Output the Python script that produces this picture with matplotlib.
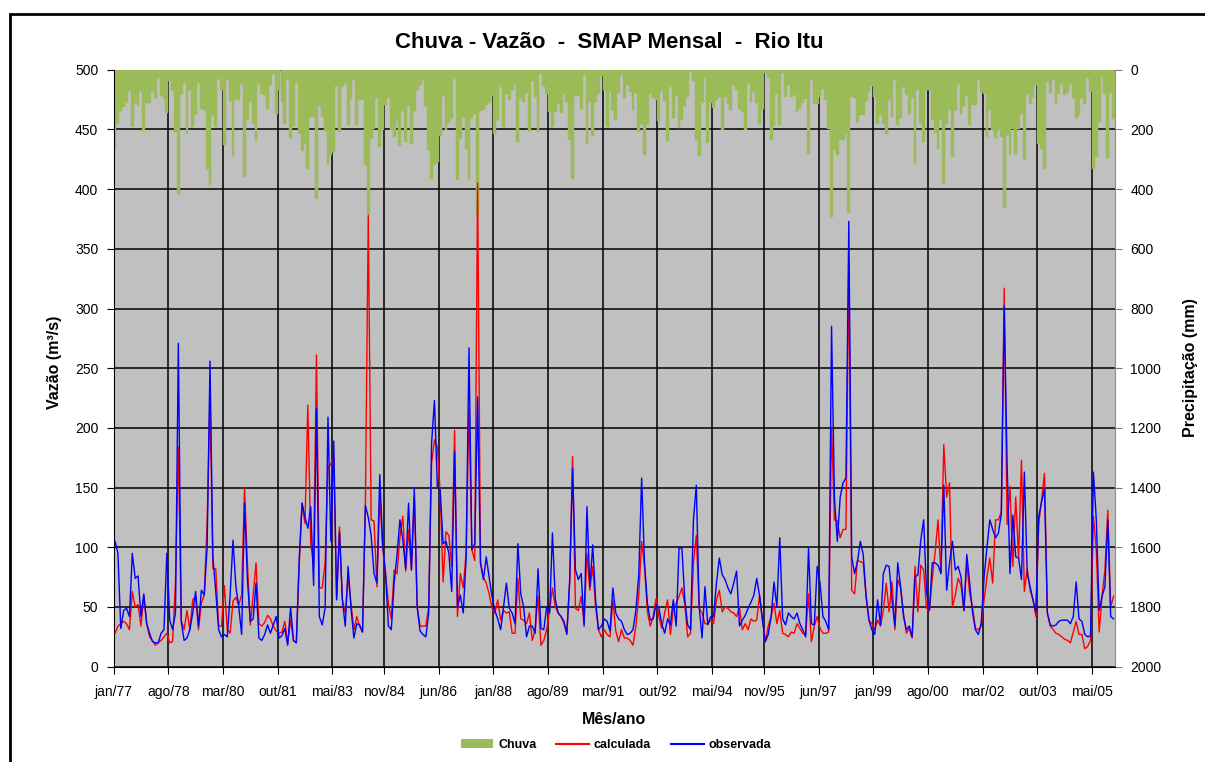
import numpy as np
import matplotlib
matplotlib.use("Agg")
import matplotlib.pyplot as plt
from matplotlib.lines import Line2D
from matplotlib.patches import Patch, Rectangle

plt.rcParams["font.family"] = ["Liberation Sans", "DejaVu Sans"]

# monthly series, jan/77 .. dez/05
TICK_LABELS = ["jan/77", "ago/78", "mar/80", "out/81", "mai/83", "nov/84", "jun/86",
               "jan/88", "ago/89", "mar/91", "out/92", "mai/94", "nov/95", "jun/97",
               "jan/99", "ago/00", "mar/02", "out/03", "mai/05"]
MESES = ["jan", "fev", "mar", "abr", "mai", "jun", "jul", "ago", "set", "out", "nov", "dez"]

# Chuva (mm)
chuva = [
    261, 183, 140, 125, 110, 71, 192, 110, 122, 71,
    205, 110, 110, 76, 94, 27, 89, 98, 145, 39,
    71, 209, 415, 83, 44, 217, 67, 192, 153, 44,
    131, 134, 331, 387, 155, 192, 30, 69, 253, 36,
    105, 289, 103, 100, 49, 359, 170, 108, 181, 240,
    47, 80, 86, 133, 52, 13, 147, 67, 108, 183,
    33, 228, 189, 44, 214, 273, 246, 331, 158, 158,
    434, 122, 158, 205, 315, 285, 276, 55, 209, 58,
    47, 186, 99, 33, 186, 103, 103, 320, 487, 233,
    200, 94, 259, 203, 117, 94, 203, 225, 173, 257,
    138, 242, 123, 248, 138, 69, 52, 33, 123, 268,
    365, 320, 309, 222, 89, 201, 177, 164, 30, 368,
    231, 158, 264, 365, 166, 147, 490, 138, 134, 119,
    112, 89, 214, 170, 58, 192, 83, 100, 67, 47,
    242, 94, 108, 77, 206, 38, 92, 209, 13, 56,
    83, 142, 192, 142, 114, 145, 80, 108, 237, 365,
    89, 89, 131, 19, 248, 108, 223, 108, 80, 22,
    69, 192, 71, 136, 167, 77, 19, 94, 50, 75,
    136, 78, 209, 181, 285, 184, 83, 94, 103, 173,
    71, 106, 240, 58, 161, 89, 195, 167, 123, 92,
    8, 38, 237, 289, 110, 27, 244, 110, 127, 103,
    92, 203, 92, 114, 134, 52, 69, 131, 142, 203,
    49, 108, 75, 112, 181, 131, 11, 27, 237, 186,
    80, 186, 11, 92, 52, 92, 86, 142, 131, 112,
    99, 281, 36, 116, 116, 92, 64, 100, 198, 493,
    270, 287, 237, 237, 214, 480, 92, 94, 175, 153,
    153, 105, 75, 56, 92, 183, 153, 183, 217, 100,
    158, 36, 186, 161, 58, 86, 147, 94, 311, 69,
    181, 242, 67, 69, 170, 212, 264, 170, 384, 181,
    134, 292, 134, 47, 150, 125, 89, 186, 119, 119,
    36, 75, 83, 225, 136, 203, 228, 203, 225, 462,
    220, 287, 198, 281, 198, 147, 304, 83, 114, 92,
    52, 248, 264, 331, 41, 77, 36, 112, 80, 49,
    84, 78, 49, 94, 161, 153, 94, 116, 27, 75,
    331, 292, 175, 25, 80, 295, 78, 164,
]

# Vazao calculada (m3/s)
calculada = [
    28, 34, 36, 38, 36, 31, 63, 50, 52, 34,
    59, 36, 25, 22, 18, 20, 22, 25, 28, 20,
    21, 70, 184, 39, 31, 47, 31, 56, 59, 31,
    53, 60, 120, 226, 82, 82, 34, 34, 68, 31,
    28, 55, 58, 52, 60, 150, 87, 35, 60, 87,
    36, 34, 37, 43, 40, 34, 30, 28, 29, 38,
    20, 39, 22, 20, 85, 137, 120, 219, 103, 87,
    261, 66, 66, 87, 166, 170, 175, 57, 117, 56,
    45, 75, 53, 31, 42, 34, 29, 135, 378, 123,
    122, 67, 142, 100, 78, 53, 40, 81, 78, 109,
    126, 80, 115, 81, 142, 50, 34, 34, 34, 50,
    170, 190, 184, 145, 71, 113, 110, 84, 198, 42,
    78, 66, 95, 216, 98, 89, 405, 87, 75, 70,
    61, 49, 45, 56, 39, 47, 45, 46, 28, 28,
    74, 40, 39, 36, 45, 22, 31, 59, 18, 22,
    31, 47, 66, 50, 45, 42, 36, 28, 70, 176,
    49, 47, 59, 36, 95, 64, 84, 50, 31, 25,
    31, 27, 25, 56, 30, 21, 31, 24, 24, 22,
    18, 34, 60, 105, 84, 46, 34, 42, 57, 42,
    32, 45, 56, 27, 48, 53, 59, 66, 52, 25,
    28, 87, 110, 49, 45, 36, 36, 39, 36, 56,
    64, 46, 50, 49, 46, 45, 42, 50, 31, 36,
    31, 40, 38, 39, 60, 39, 21, 34, 42, 53,
    36, 47, 28, 27, 25, 29, 28, 36, 32, 28,
    27, 61, 21, 34, 42, 32, 28, 28, 29, 201,
    123, 122, 108, 115, 115, 340, 64, 61, 89, 88,
    87, 59, 39, 36, 31, 39, 34, 47, 70, 46,
    71, 31, 73, 66, 45, 28, 32, 24, 84, 46,
    85, 81, 49, 47, 74, 96, 123, 78, 186, 142,
    154, 50, 60, 74, 68, 47, 87, 61, 50, 32,
    31, 34, 56, 75, 91, 70, 123, 123, 130, 317,
    119, 151, 84, 142, 91, 173, 63, 82, 64, 56,
    42, 120, 140, 162, 45, 34, 31, 28, 27, 25,
    23, 22, 20, 29, 38, 27, 27, 15, 17, 22,
    126, 98, 29, 59, 81, 131, 50, 59,
]

# Vazao observada (m3/s)
observada = [
    105, 95, 32, 47, 49, 42, 95, 74, 76, 42,
    61, 36, 28, 21, 20, 20, 28, 31, 95, 39,
    31, 45, 271, 38, 22, 24, 31, 45, 63, 34,
    64, 60, 100, 256, 92, 63, 31, 25, 27, 25,
    60, 106, 67, 50, 27, 137, 73, 38, 40, 70,
    24, 22, 27, 35, 28, 35, 42, 24, 26, 32,
    18, 50, 22, 20, 90, 137, 125, 116, 134, 68,
    216, 42, 35, 49, 209, 105, 189, 56, 113, 56,
    34, 84, 49, 24, 36, 35, 29, 135, 125, 110,
    78, 70, 161, 103, 78, 34, 31, 70, 94, 123,
    106, 82, 137, 81, 149, 50, 30, 27, 25, 45,
    187, 223, 151, 148, 103, 105, 95, 63, 180, 50,
    60, 45, 90, 267, 98, 103, 226, 87, 73, 92,
    75, 59, 47, 40, 31, 50, 70, 49, 45, 36,
    103, 61, 50, 25, 34, 34, 28, 82, 32, 31,
    50, 45, 112, 56, 45, 42, 38, 27, 73, 166,
    81, 73, 78, 34, 134, 67, 102, 56, 31, 34,
    40, 38, 30, 66, 45, 40, 38, 31, 27, 28,
    31, 47, 77, 158, 87, 53, 39, 40, 52, 49,
    36, 28, 40, 35, 56, 34, 100, 99, 56, 35,
    31, 123, 152, 50, 24, 67, 35, 42, 42, 70,
    91, 77, 73, 66, 61, 70, 80, 34, 39, 43,
    49, 54, 60, 74, 59, 39, 21, 27, 42, 71,
    50, 108, 40, 35, 45, 42, 40, 45, 36, 31,
    25, 99, 36, 35, 84, 70, 42, 38, 31, 285,
    142, 105, 142, 154, 158, 373, 92, 78, 88, 105,
    94, 59, 39, 31, 27, 56, 35, 78, 85, 84,
    56, 34, 87, 67, 42, 31, 34, 25, 75, 77,
    106, 123, 63, 47, 87, 87, 85, 78, 152, 64,
    87, 105, 81, 84, 75, 47, 94, 70, 45, 31,
    27, 36, 75, 100, 123, 115, 108, 112, 128, 302,
    170, 78, 127, 92, 91, 73, 163, 78, 67, 56,
    46, 126, 138, 149, 45, 35, 34, 35, 38, 39,
    39, 39, 36, 42, 71, 40, 38, 27, 25, 26,
    163, 123, 47, 59, 67, 123, 42, 40,
]


def month_index(label):
    """'ago/78' -> months since jan/77 (two-digit years, 77..99 then 00..)."""
    mes, ano = label.split("/")
    ano = int(ano)
    ano += 1900 if ano >= 50 else 2000
    return (ano - 1977) * 12 + MESES.index(mes)


n = len(chuva)
x = np.arange(n) + 0.5
tick_pos = [month_index(t) for t in TICK_LABELS]

fig = plt.figure(figsize=(12.05, 7.62), dpi=100)
ax = fig.add_axes([113.6 / 1205, 1 - 666.7 / 762, (1115 - 113.6) / 1205, (666.7 - 69.7) / 762])
ax.set_facecolor("#C0C0C0")
# thin same-colour edge closes the hairline seams between adjacent bars
ax.bar(x, chuva, width=1.0, color="#9BBB59", edgecolor="#9BBB59", linewidth=0.3)
ax.set_xlim(0, n)
ax.set_ylim(2000, 0)
ax.set_yticks(np.arange(0, 2001, 200))
ax.set_xticks(tick_pos)
ax.set_xticklabels(TICK_LABELS, fontsize=10)
ax.set_axisbelow(True)
ax.grid(True, color="black", lw=1.1)

ax2 = ax.twinx()
ax2.plot(x, calculada, color="#FF0000", lw=1.0)
ax2.plot(x, observada, color="#0000FF", lw=1.0)
ax2.set_ylim(0, 500)
ax2.set_yticks(np.arange(0, 501, 50))

ax.yaxis.tick_right()
ax2.yaxis.tick_left()
ax.tick_params(axis="y", direction="out", length=5, labelsize=10, color="#808080", pad=6)
ax.tick_params(axis="x", direction="out", length=5, labelsize=10, pad=8)
ax2.tick_params(axis="y", direction="out", length=5, labelsize=10, pad=6)

for s in ax2.spines.values():
    s.set_visible(False)
ax.spines["top"].set_visible(False)
ax.spines["right"].set_color("#909090")
ax.spines["left"].set_color("black")
ax.spines["bottom"].set_color("black")

fig.text(0.506, 1 - 42 / 762, "Chuva - Vazão  -  SMAP Mensal  -  Rio Itu",
         ha="center", va="center", fontsize=16, fontweight="bold")
fig.text(55 / 1205, 1 - 362 / 762, "Vazão (m³/s)", rotation=90,
         ha="center", va="center", fontsize=11.5, fontweight="bold")
fig.text(1190 / 1205, 1 - 368 / 762, "Precipitação (mm)", rotation=90,
         ha="center", va="center", fontsize=11.5, fontweight="bold")
fig.text(614 / 1205, 1 - 720 / 762, "Mês/ano",
         ha="center", va="center", fontsize=11.5, fontweight="bold")

handles = [Patch(facecolor="#9BBB59", edgecolor="none"),
           Line2D([], [], color="#FF0000", lw=1.5),
           Line2D([], [], color="#0000FF", lw=1.5)]
fig.legend(handles, ["Chuva", "calculada", "observada"], loc="center",
           bbox_to_anchor=(616 / 1205, 1 - 745 / 762), ncol=3, frameon=False,
           prop={"weight": "bold", "size": 9}, handlelength=2.6,
           handletextpad=0.4, columnspacing=1.6)

# outer chart border
fig.add_artist(Rectangle((10 / 1205, -0.05), 1.2, 1.05 - 14 / 762,
                         transform=fig.transFigure, fill=False, lw=2, ec="black"))

fig.savefig("out.png", dpi=100, facecolor="white")
